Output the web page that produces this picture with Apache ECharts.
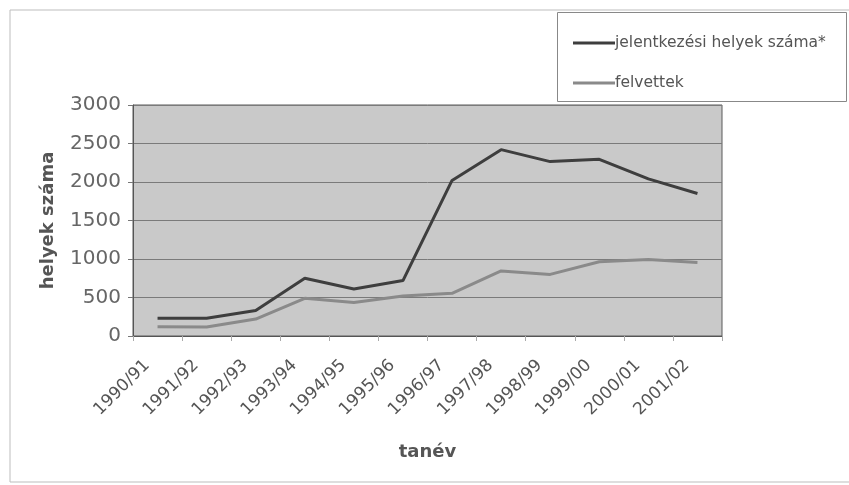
<!DOCTYPE html>
<html>
<head>
<meta charset="utf-8">
<script src="https://cdn.jsdelivr.net/npm/echarts@6/dist/echarts.min.js"></script>
<style>
html,body{margin:0;padding:0;background:#fff;}
#c{width:849px;height:485px;}
</style>
</head>
<body>
<div id="c"></div>
<script>
var categories = ['1990/91','1991/92','1992/93','1993/94','1994/95','1995/96','1996/97','1997/98','1998/99','1999/00','2000/01','2001/02'];
var jelentkezesi = [230, 230, 330, 750, 610, 720, 2020, 2420, 2265, 2295, 2040, 1850];
var felvettek = [120, 118, 220, 490, 435, 520, 555, 845, 800, 965, 995, 955];
var yTicks = [0, 500, 1000, 1500, 2000, 2500, 3000];

var chart = echarts.init(document.getElementById('c'), null, {renderer:'canvas'});
var font = 'DejaVu Sans, sans-serif';
chart.setOption({
  animation: false,
  backgroundColor: '#fff',
  textStyle: {fontFamily: font},
  graphic: [
    {type:'rect', shape:{x:10, y:10, width:850, height:472}, style:{fill:'none', stroke:'#bdbdbd', lineWidth:1}, z:-10},
    {type:'rect', shape:{x:557.5, y:12.5, width:289, height:89}, style:{fill:'#fff', stroke:'#888', lineWidth:1}, z:0}
  ],
  legend: {
    orient: 'vertical',
    left: 568,
    top: 30,
    itemWidth: 42,
    itemHeight: 3,
    itemGap: 24,
    icon: 'rect',
    textStyle: {fontFamily: font, fontSize: 15.5, color: '#555', padding:[0,0,0,-5]},
    data: ['jelentkezési helyek száma*', 'felvettek'],
    z: 5
  },
  grid: {
    left: 133, right: 127, top: 105, bottom: 149,
    show: true,
    backgroundColor: '#c9c9c9',
    borderColor: '#5a5a5a',
    borderWidth: 1
  },
  xAxis: {
    type: 'category',
    data: categories,
    boundaryGap: true,
    name: 'tanév',
    nameLocation: 'middle',
    nameGap: 107,
    nameTextStyle: {fontFamily: font, fontSize: 18, fontWeight: 'bold', color: '#555'},
    axisLine: {lineStyle: {color: '#555', width: 1}},
    axisTick: {show: true, length: 5, lineStyle: {color: '#aaa'}},
    axisLabel: {rotate: 45, fontSize: 17, color: '#555', margin: 16, interval: 0, fontFamily: font, padding: [0, 15, 0, 0]}
  },
  yAxis: {
    type: 'value',
    min: yTicks[0],
    max: yTicks[yTicks.length-1],
    interval: 500,
    name: 'helyek száma',
    nameLocation: 'middle',
    nameGap: 76,
    nameTextStyle: {fontFamily: font, fontSize: 18, fontWeight: 'bold', color: '#555'},
    axisLine: {show: true, lineStyle: {color: '#555'}},
    axisTick: {show: true, length: 5, lineStyle: {color: '#777'}},
    axisLabel: {fontSize: 20, color: '#666', margin: 12, fontFamily: font, formatter: function(v){ return String(v); }},
    splitLine: {show: true, lineStyle: {color: '#7a7a7a', width: 1}}
  },
  series: [
    {
      name: 'jelentkezési helyek száma*',
      type: 'line',
      data: jelentkezesi,
      symbol: 'none',
      lineStyle: {color: '#3e3e3e', width: 3},
      itemStyle: {color: '#3e3e3e'},
      z: 3
    },
    {
      name: 'felvettek',
      type: 'line',
      data: felvettek,
      symbol: 'none',
      lineStyle: {color: '#8a8a8a', width: 3},
      itemStyle: {color: '#8a8a8a'},
      z: 2
    }
  ]
});
</script>
</body>
</html>
